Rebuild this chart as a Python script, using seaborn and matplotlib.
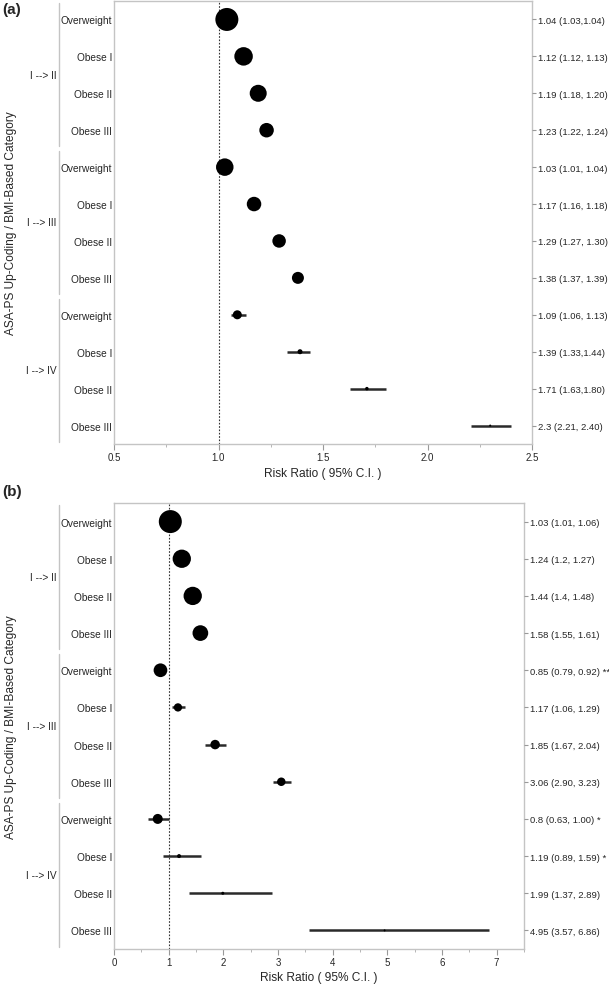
import matplotlib
matplotlib.use('Agg')
import matplotlib.pyplot as plt
import matplotlib.transforms as mtransforms
from matplotlib.ticker import AutoMinorLocator, MultipleLocator
import pandas as pd
import seaborn as sns

# ---- data ----
groups = ['I --> II', 'I --> III', 'I --> IV']
categories = ['Overweight', 'Obese I', 'Obese II', 'Obese III']

# panel (a)
rr_a = [1.04, 1.12, 1.19, 1.23, 1.03, 1.17, 1.29, 1.38, 1.09, 1.39, 1.71, 2.3]
lo_a = [1.03, 1.12, 1.18, 1.22, 1.01, 1.16, 1.27, 1.37, 1.06, 1.33, 1.63, 2.21]
hi_a = [1.04, 1.13, 1.20, 1.24, 1.04, 1.18, 1.30, 1.39, 1.13, 1.44, 1.80, 2.40]
weight_a = [23, 18.5, 17, 14.5, 17.5, 14.5, 13.5, 12, 9, 5, 3.5, 2]
text_a = ['1.04 (1.03,1.04)', '1.12 (1.12, 1.13)', '1.19 (1.18, 1.20)', '1.23 (1.22, 1.24)',
          '1.03 (1.01, 1.04)', '1.17 (1.16, 1.18)', '1.29 (1.27, 1.30)', '1.38 (1.37, 1.39)',
          '1.09 (1.06, 1.13)', '1.39 (1.33,1.44)', '1.71 (1.63,1.80)', '2.3 (2.21, 2.40)']

# panel (b)
rr_b = [1.03, 1.24, 1.44, 1.58, 0.85, 1.17, 1.85, 3.06, 0.8, 1.19, 1.99, 4.95]
lo_b = [1.01, 1.2, 1.4, 1.55, 0.79, 1.06, 1.67, 2.90, 0.63, 0.89, 1.37, 3.57]
hi_b = [1.06, 1.27, 1.48, 1.61, 0.92, 1.29, 2.04, 3.23, 1.00, 1.59, 2.89, 6.86]
weight_b = [23, 18.3, 18.3, 15.7, 13.7, 8.3, 9.5, 8.5, 10, 4, 3, 2]
text_b = ['1.03 (1.01, 1.06)', '1.24 (1.2, 1.27)', '1.44 (1.4, 1.48)', '1.58 (1.55, 1.61)',
          '0.85 (0.79, 0.92) **', '1.17 (1.06, 1.29)', '1.85 (1.67, 2.04)', '3.06 (2.90, 3.23)',
          '0.8 (0.63, 1.00) *', '1.19 (0.89, 1.59) *', '1.99 (1.37, 2.89)', '4.95 (3.57, 6.86)']

sns.set_theme(style='white')
plt.rcParams['font.family'] = ['Liberation Sans', 'DejaVu Sans']

W, H = 609, 987
fig = plt.figure(figsize=(W / 100, H / 100), dpi=100)
SPINE = '#c4c4c4'


def px_axes(left, top, right, bottom):
    return fig.add_axes([left / W, 1 - bottom / H, (right - left) / W, (bottom - top) / H])


def forest(ax, rr, lo, hi, weight, texts, xlim, major, xticklabels_fmt):
    df = pd.DataFrame({
        'group': [g for g in groups for _ in categories],
        'category': categories * len(groups),
        'rr': rr, 'lo': lo, 'hi': hi, 'w': weight, 'text': texts,
    })
    df['row'] = range(len(df))

    ax.axvline(1.0, color='#333333', lw=0.8, ls=(0, (1.5, 1.5)), zorder=1)
    ax.hlines(df['row'], df['lo'], df['hi'], color='#2a2a2a', lw=1.8, zorder=2)
    sns.scatterplot(data=df, x='rr', y='row', s=(df['w'] * 0.72) ** 2,
                    color='black', edgecolor='none', linewidth=0, legend=False,
                    ax=ax, zorder=3)

    ax.set_xlim(*xlim)
    ax.set_ylim(len(df) - 0.5, -0.5)
    ax.xaxis.set_major_locator(MultipleLocator(major))
    ax.xaxis.set_minor_locator(AutoMinorLocator(2))
    ax.set_xticklabels([xticklabels_fmt.format(v) for v in ax.get_xticks()])
    ax.set_yticks(df['row'])
    ax.set_yticklabels(df['category'], fontsize=7.3)
    ax.tick_params(axis='y', length=0, pad=1.5)
    ax.tick_params(axis='x', which='major', direction='out', length=4, width=0.8,
                   color='#999999', labelsize=7.0, pad=1.5, bottom=True)
    ax.tick_params(axis='x', which='minor', direction='out', length=2.5, width=0.6,
                   color='#aaaaaa', bottom=True)
    for sp in ax.spines.values():
        sp.set_color(SPINE)
        sp.set_linewidth(1.0)
    ax.set_xlabel('Risk Ratio ( 95% C.I. )', fontsize=8.6, labelpad=3.5)
    ax.set_ylabel('')

    ax2 = ax.twinx()
    ax2.set_ylim(ax.get_ylim())
    ax2.set_yticks(df['row'])
    ax2.set_yticklabels(df['text'], fontsize=6.8)
    ax2.tick_params(axis='y', direction='out', length=3, width=0.8, color='#999999', pad=1.2)
    for sp in ax2.spines.values():
        sp.set_visible(False)
    ax2.grid(False)

    # group brackets and labels on the left
    trans = mtransforms.blended_transform_factory(fig.transFigure, ax.transData)
    for gi, g in enumerate(groups):
        top = gi * 4 - 0.5 + 0.06
        bot = gi * 4 + 3.5 - 0.06
        ax.plot([59 / W, 59 / W], [top, bot], color=SPINE, lw=1.0,
                transform=trans, clip_on=False)
        ax.text(56.5 / W, gi * 4 + 1.5, g, transform=trans, ha='right', va='center',
                fontsize=7.3)

    mid = (ax.get_position().y0 + ax.get_position().y1) / 2
    fig.text(11 / W, mid, 'ASA-PS Up-Coding / BMI-Based Category', rotation=90,
             ha='center', va='center', fontsize=8.6)


ax_a = px_axes(114, 2, 532, 445)
forest(ax_a, rr_a, lo_a, hi_a, weight_a, text_a, (0.5, 2.5), 0.5, '{:.1f}')

ax_b = px_axes(114, 504, 524, 950)
forest(ax_b, rr_b, lo_b, hi_b, weight_b, text_b, (0, 7.5), 1, '{:.0f}')

fig.text(2 / W, 1 - 10 / H, '(a)', fontsize=11, fontweight='bold', ha='left', va='center')
fig.text(2 / W, 1 - 492 / H, '(b)', fontsize=11, fontweight='bold', ha='left', va='center')

fig.savefig('out.png', dpi=100)
